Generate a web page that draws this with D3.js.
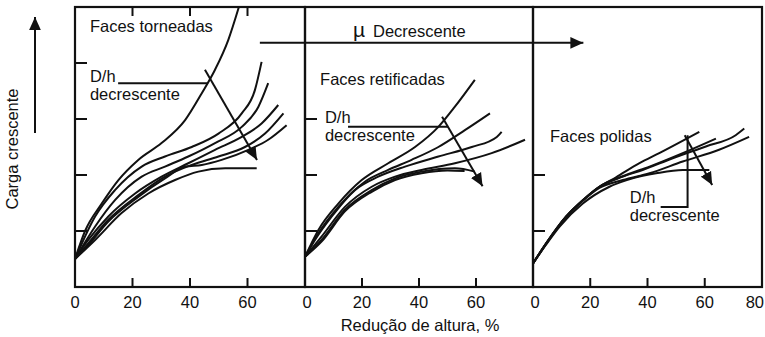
<!DOCTYPE html>
<html><head><meta charset="utf-8">
<script src="https://cdn.jsdelivr.net/npm/d3@7"></script>
<style>html,body{margin:0;padding:0;background:#fff}svg{display:block}text{font-family:"Liberation Sans",Arial,sans-serif;fill:#111}</style>
</head><body>
<svg id="c" width="765" height="337"></svg>
<script>
// ---- data ----
const panelNames = ["Faces torneadas", "Faces retificadas", "Faces polidas"];
const xTickLabels = [[0,20,40,60],[0,20,40,60],[0,20,40,60,80]];
const yTicksPerPanel = [[1,2,3,4],[1,2,3],[1,2]];
const xAxisTitle = "Redução de altura, %";
const yAxisTitle = "Carga crescente";
const topArrowLabel = "Decrescente";

const torneadas = [
  [[0,0.5],[3.5,1.0],[9.3,1.49],[15.1,1.91],[22,2.27],[30.1,2.57],[38.3,2.98],[44.1,3.46],[48.7,3.88],[53.3,4.41],[57,5.0]],
  [[0,0.5],[7,1.26],[13.9,1.73],[23.2,2.15],[31.3,2.33],[40.6,2.5],[49.9,2.74],[58,3.1],[62.6,3.52],[64.9,4.02]],
  [[0,0.5],[7,1.08],[13.9,1.55],[23.2,1.97],[31.3,2.15],[39.4,2.33],[48.7,2.57],[58,2.86],[63.8,3.22],[67.2,3.64]],
  [[0,0.5],[4.6,0.84],[11.6,1.26],[20.9,1.67],[30.1,1.97],[39.4,2.21],[48.7,2.45],[58,2.68],[64.9,2.92],[70.7,3.25]],
  [[0,0.5],[4.6,0.78],[11.6,1.2],[22,1.64],[31.3,1.97],[40.6,2.18],[49.9,2.33],[59.1,2.5],[66.1,2.74],[72.5,3.1]],
  [[0,0.5],[4.6,0.75],[11.6,1.17],[22,1.61],[31.3,1.94],[38.3,2.15],[44.1,2.18],[51,2.27],[60.3,2.45],[67.2,2.63],[73.6,2.89]],
  [[0,0.5],[7,0.84],[16.2,1.32],[25.5,1.67],[34.8,1.91],[42.9,2.06],[52.2,2.12],[63.2,2.12]]
];
const retificadas = [
  [[0,0.54],[4.7,1.02],[11.7,1.49],[19.9,1.91],[29.2,2.21],[38.6,2.5],[46.8,2.86],[52.6,3.22],[59.6,3.7]],
  [[0,0.54],[4.7,0.96],[11.7,1.43],[21,1.88],[29.2,2.09],[37.4,2.27],[46.8,2.5],[56.1,2.8],[64.9,3.1]],
  [[0,0.54],[3.5,0.84],[9.4,1.26],[17.5,1.73],[25.7,1.97],[35.1,2.15],[46.8,2.33],[58.5,2.5],[67.3,2.68],[69,2.77]],
  [[0,0.54],[5.8,0.9],[14,1.43],[23.4,1.79],[31.6,1.97],[40.9,2.09],[52.6,2.21],[65.5,2.39],[77.2,2.63]],
  [[0,0.54],[5.8,0.84],[14,1.38],[23.4,1.73],[31.6,1.94],[40.9,2.06],[52.6,2.12],[59.6,2.06]],
  [[0,0.54],[5.8,0.81],[14,1.35],[23.4,1.7],[31.6,1.91],[40.9,2.03],[50,2.08],[56,2.07]]
];
const polidas = [
  [[0,0.42],[4.6,0.78],[11.6,1.26],[17.4,1.55],[23.2,1.79],[29,1.96],[37.2,2.21],[44.1,2.39],[58.1,2.77]],
  [[0,0.42],[4.6,0.78],[11.6,1.26],[17.4,1.55],[23.2,1.79],[32.5,2.0],[40.7,2.15],[52.3,2.39],[63.9,2.65]],
  [[0,0.42],[4.6,0.78],[11.6,1.26],[17.4,1.55],[23.2,1.79],[31.4,1.97],[38.3,2.09],[48.8,2.3],[60.4,2.51],[70.8,2.71],[73.8,2.83]],
  [[0,0.42],[4.6,0.77],[11.6,1.25],[17.4,1.54],[23.2,1.77],[31.4,1.91],[40.7,2.03],[52.3,2.24],[65,2.45],[75.5,2.68]],
  [[0,0.42],[4.6,0.76],[9.3,1.08],[17.4,1.49],[26.7,1.79],[34.8,1.94],[43,2.03],[52.3,2.09],[61.6,2.09]]
];
const seriesPerPanel = [torneadas, retificadas, polidas];
// annotation positions (data units of each panel)
const namePos = [[5.2,4.55],[5.3,3.61],[5.9,2.59]];
const dhPos = [[5.2,3.66],[7,2.93],[33.8,1.5]];
const dhLines = [
  [[15,3.64],[46.3,3.64]],
  [[15.1,2.86],[50.2,2.86]],
  [[44.6,1.43],[54,1.43],[54,2.71]]
];
const dhArrows = [
  [[45.2,3.88],[63.3,2.27]],
  [[48.1,3.04],[62.3,1.8]],
  [[53,2.71],[62.6,1.82]]
];

// ---- layout ----
const svg = d3.select("#c");
const panelRanges = [[75,305],[305,533],[533,762]];
const plotTop = 7, plotBottom = 287;
const y = d3.scaleLinear().domain([0,5]).range([plotBottom, plotTop]);
const xs = panelRanges.map(r => d3.scaleLinear().domain([0,80]).range(r));
const line = d3.line().curve(d3.curveMonotoneX);
const fs = 16.5;

svg.append("defs").append("marker")
  .attr("id","ah").attr("viewBox","0 0 10 10").attr("refX",10).attr("refY",5)
  .attr("markerWidth",13).attr("markerHeight",13).attr("markerUnits","userSpaceOnUse")
  .attr("orient","auto")
  .append("path").attr("d","M0,0.5 L10,5 L0,9.5 Z").attr("fill","#111");

seriesPerPanel.forEach((series, i) => {
  const x = xs[i];
  const g = svg.append("g");
  series.forEach(s => {
    g.append("path").attr("d", line(s.map(d => [x(d[0]), y(d[1])])))
      .attr("fill","none").attr("stroke","#111").attr("stroke-width",2);
  });
  g.append("rect").attr("x", x(0)).attr("y", y(5)).attr("width", x(80)-x(0)).attr("height", y(0)-y(5))
    .attr("fill","none").attr("stroke","#111").attr("stroke-width",2.2);
  yTicksPerPanel[i].forEach(t => {
    g.append("line").attr("x1", x(0)).attr("x2", x(0)+12).attr("y1", y(t)).attr("y2", y(t))
      .attr("stroke","#111").attr("stroke-width",2);
  });
  [20,40,60].forEach(t => {
    g.append("line").attr("x1", x(t)).attr("x2", x(t)).attr("y1", y(0)).attr("y2", y(0)-9)
      .attr("stroke","#111").attr("stroke-width",2);
    if (i === 0) g.append("line").attr("x1", x(t)).attr("x2", x(t)).attr("y1", y(5)).attr("y2", y(5)+9)
      .attr("stroke","#111").attr("stroke-width",2);
  });
  xTickLabels[i].forEach(t => {
    const tx = g.append("text").attr("y", 308).attr("font-size",fs).text(t);
    if (t === 80) tx.attr("x", x(t)+2).attr("text-anchor","end");
    else tx.attr("x", x(t)+(t===0&&i>0?2:0)).attr("text-anchor","middle");
  });
  g.append("text").attr("x", x(namePos[i][0])).attr("y", y(namePos[i][1])).attr("font-size",fs).text(panelNames[i]);
  g.append("text").attr("x", x(dhPos[i][0])).attr("y", y(dhPos[i][1])).attr("font-size",fs).text("D/h");
  g.append("text").attr("x", x(dhPos[i][0])).attr("y", y(dhPos[i][1])+18).attr("font-size",fs).text("decrescente");
  g.append("path").attr("d", d3.line()(dhLines[i].map(d => [x(d[0]), y(d[1])])))
    .attr("fill","none").attr("stroke","#111").attr("stroke-width",2);
  g.append("path").attr("d", d3.line()(dhArrows[i].map(d => [x(d[0]), y(d[1])])))
    .attr("fill","none").attr("stroke","#111").attr("stroke-width",2).attr("marker-end","url(#ah)");
});

const ta = [[xs[0](64.3), y(4.36)], [xs[2](17.6), y(4.36)]];
svg.append("path").attr("d", d3.line()(ta)).attr("stroke","#111").attr("stroke-width",2)
  .attr("fill","none").attr("marker-end","url(#ah)");
svg.append("text").attr("x", 353).attr("y", 37).attr("font-size",21).text("µ");
svg.append("text").attr("x", 373).attr("y", 37).attr("font-size",fs).text(topArrowLabel);

svg.append("text").attr("x", 420).attr("y", 331).attr("text-anchor","middle").attr("font-size",fs).text(xAxisTitle);
svg.append("text").attr("transform","translate(18,149) rotate(-90)").attr("text-anchor","middle").attr("font-size",fs).text(yAxisTitle);
svg.append("path").attr("d", d3.line()([[35,133],[35,17]])).attr("stroke","#111").attr("stroke-width",2)
  .attr("fill","none").attr("marker-end","url(#ah)");
</script>
</body></html>
